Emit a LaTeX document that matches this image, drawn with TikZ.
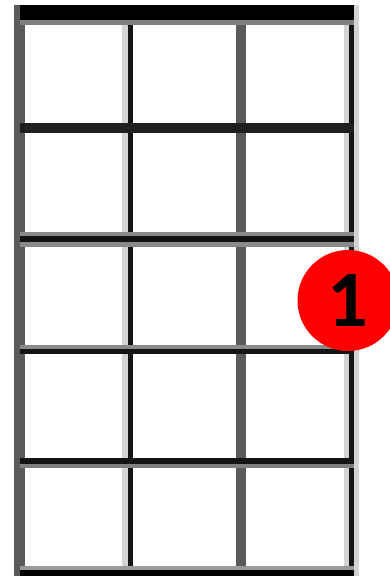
\documentclass[tikz,border=0pt]{standalone}
\usepackage{fontspec}
\newfontfamily\dotfont{Carlito}
\definecolor{strdark}{HTML}{5A5A5A}
\definecolor{shadelight}{HTML}{D3D3D3}
\definecolor{shademid}{HTML}{8A8A8A}
\definecolor{dotred}{HTML}{FF0000}
\tikzset{
  fingerdot/.style={circle, fill=dotred, minimum size=101pt, inner sep=0pt,
    font=\dotfont\bfseries\fontsize{80}{80}\selectfont, text=black}
}
\begin{document}
\begin{tikzpicture}[x=1pt,y=-1pt]
\useasboundingbox (0,0) rectangle (389,576);
\fill[white] (0,0) rectangle (389,576);
% strings
\fill[strdark] (14,5) rectangle (25,576);
\fill[shadelight] (122,20) rectangle (128,576);
\fill[black!92] (128,20) rectangle (133,576);
\fill[strdark] (236,20) rectangle (246,576);
\fill[shadelight] (344,20) rectangle (349,576);
\fill[black!92] (349,20) rectangle (354,576);
\fill[shadelight] (354,5) rectangle (359,576);
% nut
\fill[black] (20,5) rectangle (354,20);
\fill[black!50] (20,20) rectangle (354,25);
% frets
\fill[black!88] (20,123) rectangle (354,133);
\fill[shademid] (20,232) rectangle (354,247);
\fill[black!92] (20,236) rectangle (354,242);
\fill[shademid] (20,345) rectangle (354,349);
\fill[black!92] (20,349) rectangle (354,354);
\fill[black!92] (20,458) rectangle (354,464);
\fill[black!50] (20,464) rectangle (354,468);
\fill[black!40] (20,566) rectangle (354,570);
\fill[black] (20,570) rectangle (354,576);
% finger dot
\node[fingerdot] (dot) at (348,300.5) {1};
\end{tikzpicture}
\end{document}
